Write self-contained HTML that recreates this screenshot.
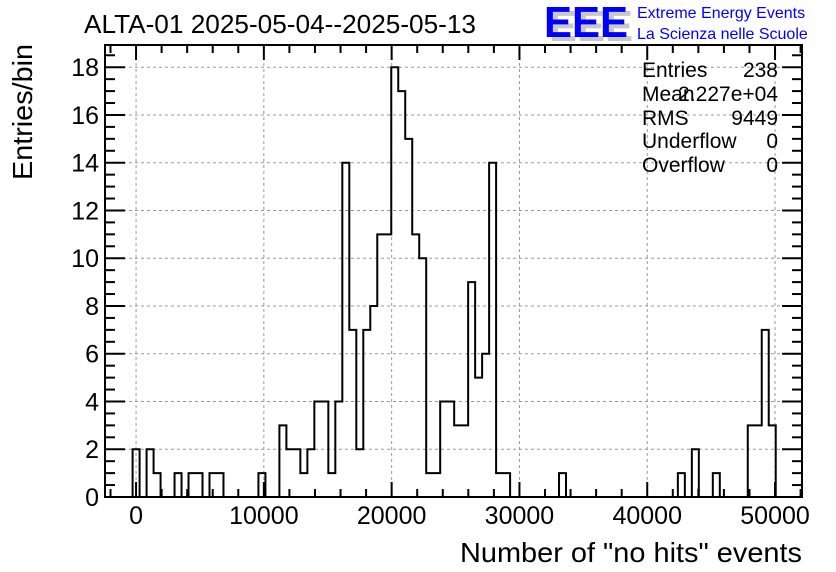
<!DOCTYPE html>
<html><head><meta charset="utf-8"><style>
html,body{margin:0;padding:0;background:#fff;}
svg{display:block;font-family:"Liberation Sans",Arial,sans-serif;}
</style></head><body>
<svg id="chart" width="836" height="572" viewBox="0 0 836 572" xmlns="http://www.w3.org/2000/svg">
<rect width="836" height="572" fill="#fff"/>
<g id="grid"></g>
<path id="hist" fill="none" stroke="#000" stroke-width="2"/>
<g id="axes"></g>
<rect x="105" y="45" width="697" height="452" fill="none" stroke="#000" stroke-width="2"/>
<text x="84" y="33" font-size="26" textLength="392" lengthAdjust="spacingAndGlyphs">ALTA-01 2025-05-04--2025-05-13</text>
<text transform="translate(32,180) rotate(-90)" font-size="28" textLength="136" lengthAdjust="spacingAndGlyphs">Entries/bin</text>
<text x="802" y="562" text-anchor="end" font-size="28" textLength="342" lengthAdjust="spacingAndGlyphs">Number of "no hits" events</text>
<g>
<text x="549" y="41" font-size="44" font-weight="bold" fill="#c8c8c8" textLength="84" lengthAdjust="spacingAndGlyphs">EEE</text>
<text x="544" y="37" font-size="44" font-weight="bold" fill="#0000ff" textLength="84" lengthAdjust="spacingAndGlyphs">EEE</text>
<text x="637" y="18" font-size="16" fill="#0000ff">Extreme Energy Events</text>
<text x="637" y="39" font-size="16" fill="#0000ff">La Scienza nelle Scuole</text>
</g>
<g font-size="21">
<text x="642" y="77">Entries</text><text x="778" y="77" text-anchor="end">238</text>
<text x="642" y="101">Mean</text><text x="778" y="101" text-anchor="end">2.227e+04</text>
<text x="642" y="125">RMS</text><text x="778" y="125" text-anchor="end">9449</text>
<text x="642" y="148">Underflow</text><text x="778" y="148" text-anchor="end">0</text>
<text x="642" y="172">Overflow</text><text x="778" y="172" text-anchor="end">0</text>
</g>
</svg>
<script>
const binStart = -270;
const binWidth = 547;
const counts = [2,0,2,1,0,0,1,0,1,1,0,1,1,0,0,0,0,0,1,0,0,3,2,2,1,2,4,4,1,4,14,7,2,7,8,11,11,18,17,15,11,10,1,1,4,4,3,3,9,5,6,14,1,1,0,0,0,0,0,0,0,1,0,0,0,0,0,0,0,0,0,0,0,0,0,0,0,0,1,0,2,0,0,1,0,0,0,0,3,3,7,3];
const xTicks = [0,10000,20000,30000,40000,50000];
const yTicks = [0,2,4,6,8,10,12,14,16,18];
const X0=105,X1=802,Y0=497,Y1=45;
const xmin=-2430,xmax=52110,ymin=0,ymax=18.93;
const sx=v=>X0+(v-xmin)/(xmax-xmin)*(X1-X0);
const sy=v=>Y0-(v-ymin)/(ymax-ymin)*(Y0-Y1);
const NS="http://www.w3.org/2000/svg";
function mk(tag,attrs,parent){const e=document.createElementNS(NS,tag);for(const k in attrs)e.setAttribute(k,attrs[k]);parent.appendChild(e);return e;}
const grid=document.getElementById('grid'),axes=document.getElementById('axes');
xTicks.forEach(v=>{const l=mk('line',{x1:sx(v),x2:sx(v),y1:Y1,y2:Y0,stroke:'#999','stroke-dasharray':'3,3','stroke-width':1},grid);

});
yTicks.forEach(v=>{if(v===0)return;const l=mk('line',{x1:X0,x2:X1,y1:sy(v),y2:sy(v),stroke:'#999','stroke-dasharray':'3,3','stroke-width':1},grid);

});
let d='M'+sx(binStart)+','+sy(0);
counts.forEach((c,i)=>{const a=sx(binStart+i*binWidth),b=sx(binStart+(i+1)*binWidth);d+=' L'+a+','+sy(c)+' L'+b+','+sy(c);});
d+=' L'+sx(binStart+counts.length*binWidth)+','+sy(0);
document.getElementById('hist').setAttribute('d',d);
for(let v=-2000;v<=52000;v+=2000){const maj=v%10000===0;const L=maj?15:8;const x=sx(v);
mk('line',{x1:x,x2:x,y1:Y0,y2:Y0-L,stroke:'#000','stroke-width':2},axes);
mk('line',{x1:x,x2:x,y1:Y1,y2:Y1+L,stroke:'#000','stroke-width':2},axes);}
for(let v=0;v<=18.9;v+=0.5){const maj=Math.abs(v%2)<1e-6;const L=maj?20:10;const y=sy(v);
mk('line',{x1:X0,x2:X0+L,y1:y,y2:y,stroke:'#000','stroke-width':2},axes);
mk('line',{x1:X1,x2:X1-L,y1:y,y2:y,stroke:'#000','stroke-width':2},axes);}
xTicks.forEach(v=>{const t=mk('text',{x:sx(v),y:524,'text-anchor':'middle','font-size':25},axes);t.textContent=v;

});
yTicks.forEach(v=>{const t=mk('text',{x:99,y:sy(v)+9,'text-anchor':'end','font-size':25},axes);t.textContent=v;

});
</script>
</body></html>
